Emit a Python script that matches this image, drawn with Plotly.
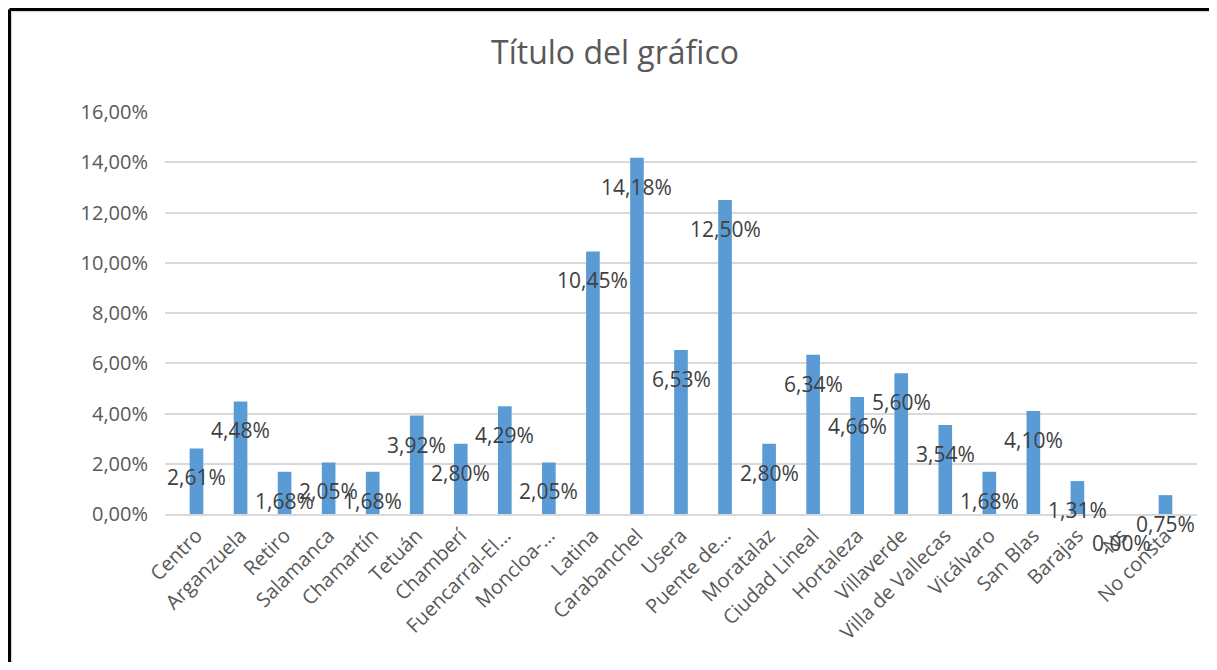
import plotly.graph_objects as go

categories = ["Centro", "Arganzuela", "Retiro", "Salamanca", "Chamartín", "Tetuán", "Chamberí",
              "Fuencarral-El…", "Moncloa-…", "Latina", "Carabanchel", "Usera", "Puente de…",
              "Moratalaz", "Ciudad Lineal", "Hortaleza", "Villaverde", "Villa de Vallecas",
              "Vicálvaro", "San Blas", "Barajas", "Ns", "No consta"]
values_pct = [2.61, 4.48, 1.68, 2.05, 1.68, 3.92, 2.80, 4.29, 2.05, 10.45, 14.18, 6.53, 12.50,
              2.80, 6.34, 4.66, 5.60, 3.54, 1.68, 4.10, 1.31, 0.00, 0.75]
values = [v / 100 for v in values_pct]

FONT = "Open Sans"
W, H = 1201, 654
L, T, PW, PH = 157, 104, 1032, 402

fig = go.Figure()
fig.add_trace(go.Bar(x=categories, y=values, marker_color="#5b9bd5", marker_line_width=0,
                     hoverinfo="x+y"))

for c, v in zip(categories, values):
    fig.add_annotation(x=c, y=v, text=f"{v*100:.2f}%".replace(".", ","), showarrow=False,
                       yshift=-29, font=dict(family=FONT, size=21, color="#404040"))

# frame: black top/left edge with a thin light-gray inner line
x_left_out = -(L - 1.5) / PW
x_left_in = -(L - 3.5) / PW
y_top_out = 1 + (T - 1.5) / PH
y_top_in = 1 + (T - 3.5) / PH
for (x0, y0, x1, y1, col, w) in [
    (x_left_in, -0.8, x_left_in, y_top_in, "#d9d9d9", 1.5),
    (x_left_in, y_top_in, 1.2, y_top_in, "#d9d9d9", 1.5),
    (x_left_out, -0.8, x_left_out, y_top_out, "black", 3),
    (x_left_out, y_top_out, 1.2, y_top_out, "black", 3),
]:
    fig.add_shape(type="line", xref="paper", yref="paper", x0=x0, y0=y0, x1=x1, y1=y1,
                  line=dict(color=col, width=w), layer="above")

fig.update_layout(
    width=W, height=H,
    margin=dict(l=L, r=W - L - PW, t=T, b=H - T - PH),
    paper_bgcolor="white", plot_bgcolor="white",
    separators=",.",
    bargap=0.69,
    showlegend=False,
    title=dict(text="Título del gráfico", x=(615 - 8) / W, xref="container", xanchor="center",
               y=1 - 45 / H, yanchor="middle",
               font=dict(family=FONT, size=32, color="#595959")),
    font=dict(family=FONT, color="#595959"),
    xaxis=dict(tickangle=-45, tickfont=dict(size=20, color="#595959"), showgrid=False,
               showline=True, linecolor="#d9d9d9", linewidth=2, ticks=""),
    yaxis=dict(range=[0, 0.16], dtick=0.02, tickformat=".2%", showgrid=True,
               gridcolor="#d9d9d9", gridwidth=2, zeroline=False, ticks="",
               tickfont=dict(size=20, color="#595959"), ticklabelstandoff=16),
)
fig.write_html("out.html")
